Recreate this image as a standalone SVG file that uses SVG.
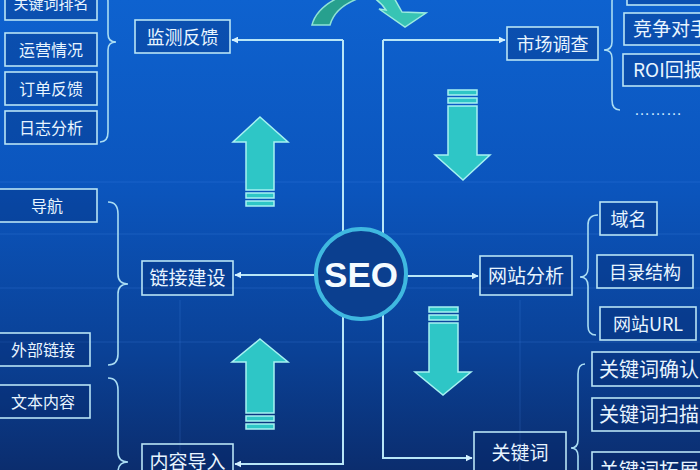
<svg xmlns="http://www.w3.org/2000/svg" width="700" height="470" viewBox="0 0 700 470">
<defs>
<linearGradient id="bg" x1="0" y1="0" x2="0" y2="1">
<stop offset="0" stop-color="#0e62cf"/>
<stop offset="0.4" stop-color="#0b55bd"/>
<stop offset="0.75" stop-color="#0a4196"/>
<stop offset="1" stop-color="#0b2d6e"/>
</linearGradient>
<marker id="ah" viewBox="0 0 10 10" refX="9" refY="5" markerWidth="7" markerHeight="7" markerUnits="userSpaceOnUse" orient="auto">
<path d="M0,0 L10,5 L0,10 Z" fill="#d4f1ff"/>
</marker>
<style>
.box{fill:rgba(4,36,100,0.28);stroke:#b8e4f6;stroke-width:1.6}
.t{font-family:"Noto Sans CJK SC","Noto Sans",sans-serif;fill:#e8f5ff;text-anchor:middle}
.ts{font-family:"Noto Sans CJK SC","Noto Sans",sans-serif;fill:#e8f5ff;text-anchor:start}
.con{fill:none;stroke:#b8e6f7;stroke-width:2}
.brace{fill:none;stroke:#a9dcf3;stroke-width:1.6}
.big{fill:#2ec6c6;stroke:#a6f2f2;stroke-width:1.5}
.grid{stroke:#5fa0ff;stroke-width:1;opacity:0.18}
</style>
</defs>
<rect width="700" height="470" fill="url(#bg)"/>
<g id="grid">
<line class="grid" x1="0" y1="182" x2="700" y2="182"/>
<line class="grid" x1="0" y1="234" x2="700" y2="234"/>
<line class="grid" x1="0" y1="288" x2="700" y2="288"/>
<line class="grid" x1="0" y1="342" x2="700" y2="342"/>
<line class="grid" x1="180" y1="300" x2="180" y2="470"/>
<line class="grid" x1="520" y1="300" x2="520" y2="470"/>
</g>

<g id="connectors">
<path class="con" d="M343,40 H232" marker-end="url(#ah)"/>
<path class="con" d="M343,40 V464 H235" marker-end="url(#ah)"/>
<path class="con" d="M383,40 H505" marker-end="url(#ah)"/>
<path class="con" d="M383,40 V458 H472" marker-end="url(#ah)"/>
<path class="con" d="M316,275 H235" marker-end="url(#ah)"/>
<path class="con" d="M406,276 H478" marker-end="url(#ah)"/>
</g>

<g id="braces">
<path class="brace" d="M100,-8 Q108,-8 108,2 L108,34 Q108,42 116,42 Q108,42 108,50 L108,132 Q108,142 100,142"/>
<path class="brace" d="M108,202 Q118,202 118,214 L118,274 Q118,284 128,284 Q118,284 118,294 L118,354 Q118,365 108,365"/>
<path class="brace" d="M108,378 Q118,378 118,390 L118,452 Q118,462 128,462 Q118,462 118,472 L118,480"/>
<path class="brace" d="M620,-8 Q612,-8 612,2 L612,42 Q612,50 604,50 Q612,50 612,58 L612,100 Q612,110 620,110"/>
<path class="brace" d="M598,215 Q588,215 588,225 L588,268 Q588,277 580,277 Q588,277 588,286 L588,326 Q588,335 596,335"/>
<path class="brace" d="M585,364 Q578,364 578,374 L578,440 Q578,448 571,448 Q578,448 578,456 L578,480"/>
</g>

<g id="arrows">
<path d="M312,25 L330,25 C333,14 342,5 357,-1 L358,-4 L342,-4 C326,3 315,13 312,25 Z" fill="#27a08e" stroke="#8fe3d5" stroke-width="1.5"/>
<path d="M371,-4 L393,-4 Q398,5 402,12 L426,13 L405,27 L379,9 L386,10 Q381,2 371,-4 Z" fill="#38c4b4" stroke="#9cecdf" stroke-width="1.5"/>
<g id="arrow-up-1">
<path class="big" d="M260,117 L288,142 L274,142 L274,190 L246,190 L246,142 L233,142 Z"/>
<rect class="big" x="246" y="193" width="28" height="5"/>
<rect class="big" x="246" y="201" width="28" height="5"/>
</g>
<g id="arrow-up-2">
<path class="big" d="M260,339 L288,362 L274,362 L274,413 L246,413 L246,362 L232,362 Z"/>
<rect class="big" x="246" y="416" width="28" height="5"/>
<rect class="big" x="246" y="424" width="28" height="5"/>
</g>
<g id="arrow-down-1">
<rect class="big" x="448" y="90" width="29" height="5"/>
<rect class="big" x="448" y="98" width="29" height="5"/>
<path class="big" d="M448,106 L477,106 L477,155 L490,155 L463,180 L435,155 L448,155 Z"/>
</g>
<g id="arrow-down-2">
<rect class="big" x="429" y="307" width="29" height="5"/>
<rect class="big" x="429" y="315" width="29" height="5"/>
<path class="big" d="M429,323 L458,323 L458,372 L471,372 L443,395 L415,372 L429,372 Z"/>
</g>
</g>

<g id="seo">
<circle cx="361" cy="274" r="45" fill="#0b3f8f" stroke="#3fb8e0" stroke-width="4"/>
<text x="361" y="287" font-family="Liberation Sans, Arial, sans-serif" font-weight="bold" font-size="35" fill="#f4fbff" text-anchor="middle">SEO</text>
</g>

<g id="n-jiance"><rect class="box" x="135" y="20" width="95" height="33"/><text class="t" x="182.5" y="43.5" font-size="18">监测反馈</text></g>
<g id="n-paiming"><rect class="box" x="5" y="-15" width="92" height="35"/><text class="t" x="51" y="9" font-size="15">关键词排名</text></g>
<g id="n-yunying"><rect class="box" x="5" y="33" width="92" height="33"/><text class="t" x="51" y="55.5" font-size="16">运营情况</text></g>
<g id="n-dingdan"><rect class="box" x="5" y="72" width="92" height="33"/><text class="t" x="51" y="94.5" font-size="16">订单反馈</text></g>
<g id="n-rizhi"><rect class="box" x="5" y="111" width="92" height="33"/><text class="t" x="51" y="133.5" font-size="16">日志分析</text></g>

<g id="n-shichang"><rect class="box" x="507" y="27" width="91" height="33"/><text class="t" x="552.5" y="50.5" font-size="18">市场调查</text></g>
<g id="n-top-right"><rect class="box" x="627" y="-20" width="80" height="25"/></g>
<g id="n-jingzheng"><rect class="box" x="624" y="13" width="84" height="32"/><text class="ts" x="633" y="36" font-size="19">竞争对手</text></g>
<g id="n-roi"><rect class="box" x="623" y="54" width="85" height="32"/><text class="ts" x="633" y="77" font-size="19">ROI回报</text></g>
<g id="n-dots"><text x="634" y="115" font-family="Liberation Sans, Arial, sans-serif" font-size="16" fill="#cfe9ff">………</text></g>

<g id="n-lianjie"><rect class="box" x="142" y="261" width="91" height="34"/><text class="t" x="187.5" y="285" font-size="19">链接建设</text></g>
<g id="n-daohang"><rect class="box" x="-5" y="189" width="102" height="33"/><text class="t" x="47" y="211.5" font-size="16">导航</text></g>
<g id="n-waibu"><rect class="box" x="-5" y="333" width="95" height="33"/><text class="t" x="43" y="355.5" font-size="16">外部链接</text></g>
<g id="n-wenben"><rect class="box" x="-5" y="385" width="95" height="33"/><text class="t" x="43" y="407.5" font-size="16">文本内容</text></g>
<g id="n-neirong"><rect class="box" x="142" y="444" width="91" height="40"/><text class="t" x="187.5" y="469" font-size="19">内容导入</text></g>

<g id="n-wangzhan"><rect class="box" x="480" y="256" width="92" height="39"/><text class="t" x="526" y="283" font-size="19">网站分析</text></g>
<g id="n-yuming"><rect class="box" x="600" y="202" width="57" height="33"/><text class="t" x="628.5" y="225.5" font-size="18">域名</text></g>
<g id="n-mulu"><rect class="box" x="597" y="255" width="96" height="33"/><text class="t" x="645" y="278.5" font-size="18">目录结构</text></g>
<g id="n-url"><rect class="box" x="600" y="307" width="96" height="33"/><text class="t" x="648" y="330.5" font-size="18">网站URL</text></g>

<g id="n-guanjianci"><rect class="box" x="474" y="432" width="92" height="50"/><text class="t" x="520" y="460" font-size="19">关键词</text></g>
<g id="n-queren"><rect class="box" x="592" y="352" width="116" height="34"/><text class="ts" x="599" y="376.5" font-size="20">关键词确认</text></g>
<g id="n-saomiao"><rect class="box" x="592" y="398" width="116" height="33"/><text class="ts" x="599" y="422" font-size="20">关键词扫描</text></g>
<g id="n-tuozhan"><rect class="box" x="592" y="452" width="116" height="30"/><text class="ts" x="599" y="478" font-size="20">关键词拓展</text></g>
</svg>
